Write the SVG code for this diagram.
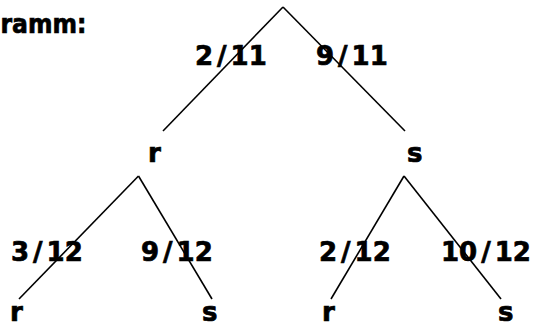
<svg xmlns="http://www.w3.org/2000/svg" width="534" height="327" viewBox="0 0 534 327">
  <style>
    text { font-family: "DejaVu Sans", Verdana, "Liberation Sans", sans-serif; font-weight: bold; font-size: 26px; fill: #000; stroke: #000; stroke-width: 0.7; }
    .edge { stroke: #000; stroke-width: 1.6; fill: none; }
  </style>
  <rect width="534" height="327" fill="#fff"/>
  <g id="title">
    <text x="0.5" y="33" textLength="86" lengthAdjust="spacingAndGlyphs">ramm:</text>
  </g>
  <g id="connectors">
    <line class="edge" x1="283" y1="7" x2="163" y2="131"/>
    <line class="edge" x1="283" y1="7" x2="405" y2="131"/>
    <line class="edge" x1="138.5" y1="176" x2="19" y2="299"/>
    <line class="edge" x1="138.5" y1="176" x2="212" y2="299"/>
    <line class="edge" x1="404" y1="176" x2="331" y2="299"/>
    <line class="edge" x1="404" y1="176" x2="501" y2="299"/>
  </g>
  <g id="edge-labels">
    <text x="195" y="65">2<tspan dx="4">/</tspan><tspan dx="4">11</tspan></text>
    <text x="316" y="65">9<tspan dx="4">/</tspan><tspan dx="4">11</tspan></text>
    <text x="11" y="261">3<tspan dx="4">/</tspan><tspan dx="4">12</tspan></text>
    <text x="141" y="261">9<tspan dx="4">/</tspan><tspan dx="4">12</tspan></text>
    <text x="319" y="261">2<tspan dx="4">/</tspan><tspan dx="4">12</tspan></text>
    <text x="441" y="261">10<tspan dx="4">/</tspan><tspan dx="4">12</tspan></text>
  </g>
  <g id="node-root"></g>
  <g id="node-r"><text x="148" y="162">r</text></g>
  <g id="node-s"><text x="407" y="162">s</text></g>
  <g id="node-rr"><text x="10" y="321">r</text></g>
  <g id="node-rs"><text x="202" y="321">s</text></g>
  <g id="node-sr"><text x="322" y="321">r</text></g>
  <g id="node-ss"><text x="498" y="321">s</text></g>
</svg>
